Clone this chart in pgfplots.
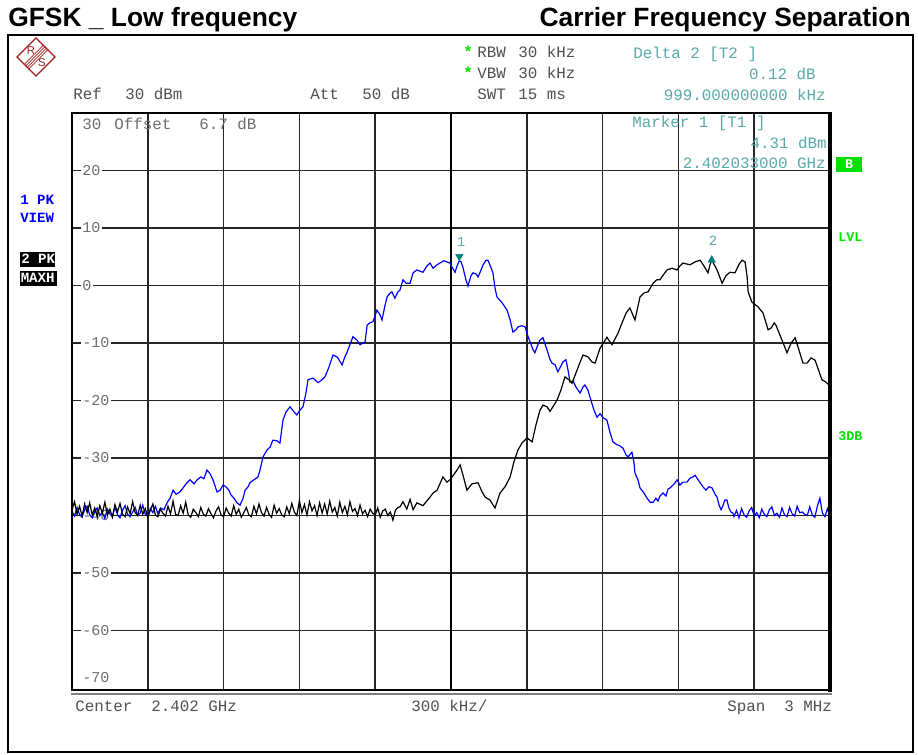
\documentclass[border=0pt]{standalone}
\usepackage{fontspec}
\setmainfont{Liberation Sans}
\newfontfamily\mono{Liberation Mono}
\usepackage{pgfplots}
\pgfplotsset{compat=1.18}
\definecolor{tealtxt}{RGB}{90,170,170}
\definecolor{tealmk}{RGB}{0,128,128}
\definecolor{rsgreen}{RGB}{0,225,0}
\definecolor{lbl}{RGB}{110,110,110}
\definecolor{hdr}{RGB}{80,80,80}
\definecolor{rsred}{RGB}{160,30,30}
\begin{document}
\begin{tikzpicture}
\begin{axis}[
  at={(54pt,-517.5pt)}, anchor=south west,
  width=568.5pt, height=432.75pt, scale only axis,
  xmin=-1500, xmax=1500, ymin=-70.35, ymax=30,
  xtick={-1200,-900,-600,-300,300,600,900,1200},
  xticklabels={},
  extra x ticks={0}, extra x tick labels={},
  extra x tick style={grid=major, major grid style={black, line width=2pt}},
  ytick={-60,-50,-40,-30,-20,-10,0,10,20},
  yticklabels={-60,-50,-40,-30,-20,-10,0,10,20},
  yticklabel style={font=\mono\fontsize{11.3}{12}\selectfont, text=lbl, anchor=west, xshift=6.5pt, fill=white, inner sep=1pt},
  major tick length=0pt,
  grid=major,
  major grid style={black!85, line width=1.1pt},
  axis line style={draw=none},
  set layers=standard,
]
% Trace 1 (PK VIEW, blue)
\addplot[blue, line width=0.9pt] coordinates {
(-1500,-39.3)(-1490,-40.1)(-1480,-38.6)(-1470,-39.8)(-1460,-40.3)(-1450,-39.0)(-1440,-38.4)(-1430,-39.9)(-1420,-40.4)(-1410,-39.2)
(-1400,-38.7)(-1390,-40.0)(-1380,-39.5)(-1370,-40.5)(-1360,-38.9)(-1350,-39.7)(-1340,-40.2)(-1330,-38.5)(-1320,-39.9)(-1310,-40.4)
(-1300,-39.1)(-1290,-38.3)(-1280,-39.8)(-1270,-40.2)(-1260,-39.4)(-1250,-38.6)(-1240,-40.0)(-1230,-39.6)(-1220,-38.2)(-1210,-39.8)
(-1200,-40.1)(-1190,-38.8)(-1180,-39.5)(-1170,-38.4)(-1160,-39.7)(-1150,-38.7)
(-1136,-39.0)(-1124,-37.8)(-1112,-37.0)(-1100,-35.6)(-1088,-36.3)(-1073,-35.9)(-1057,-35.0)(-1045,-34.3)
(-1033,-33.8)(-1017,-34.5)(-1005,-33.8)(-990,-33.3)(-978,-33.6)(-966,-32.1)(-954,-32.7)(-942,-33.8)
(-926,-35.9)(-914,-35.6)(-902,-34.7)(-891,-35.0)(-879,-35.6)(-871,-36.4)(-859,-37.0)(-847,-37.8)
(-835,-38.2)(-823,-37.0)(-815,-35.6)(-803,-35.0)(-796,-34.3)(-780,-33.8)(-764,-33.3)(-756,-32.1)
(-744,-29.8)(-728,-28.6)(-716,-28.1)(-705,-26.9)(-689,-27.0)(-677,-27.4)(-665,-23.4)(-653,-22.0)
(-637,-21.1)(-621,-22.0)(-610,-22.5)(-598,-21.7)(-586,-21.1)(-574,-18.7)(-566,-16.4)(-546,-16.1)
(-526,-16.9)(-511,-16.4)(-499,-15.9)(-483,-14.2)(-467,-12.1)(-451,-12.4)(-431,-13.8)(-420,-12.4)
(-412,-11.7)(-400,-10.3)(-388,-8.9)(-372,-9.5)(-360,-10.3)(-340,-9.8)(-332,-6.9)(-321,-6.5)
(-309,-6.3)(-293,-4.3)(-281,-5.1)(-273,-6.0)(-261,-3.4)(-253,-2.0)(-241,-1.3)(-234,-1.1)
(-222,-2.2)(-210,-1.1)(-202,-0.8)(-190,1.0)(-178,0.4)(-162,0.4)(-150,2.2)(-135,2.7)
(-123,2.5)(-111,2.3)(-95,3.4)(-83,3.9)(-71,3.0)(-55,3.6)(-44,3.9)(-28,4.3)
(-16,4.1)(-4,3.9)(4,3.2)(16,2.3)(24,3.4)(33,4.31)(40,4.1)(47,3.2)
(59,1.0)(67,-0.1)(79,1.7)(87,2.2)(99,2.0)(107,1.5)(119,2.7)(127,3.6)
(139,4.4)(146,4.4)(154,3.6)(166,2.2)(174,-0.4)(182,-2.0)(202,-3.0)(222,-4.3)
(234,-6.0)(245,-8.1)(257,-7.7)(265,-7.2)(281,-7.0)(293,-7.2)(305,-8.9)(313,-9.8)
(325,-11.2)(332,-11.7)(344,-10.3)(352,-9.5)(364,-9.1)(380,-11.2)(392,-12.9)(400,-13.5)
(412,-13.8)(423,-15.0)(435,-14.0)(443,-13.3)(455,-12.9)(463,-14.7)(471,-16.8)(483,-16.6)
(495,-17.7)(511,-18.7)(522,-17.7)(530,-17.3)(542,-18.2)(550,-19.4)(566,-21.7)(578,-22.9)
(590,-22.3)(602,-23.0)(617,-23.4)(629,-25.5)(641,-27.2)(657,-27.7)(669,-27.9)(681,-28.3)
(693,-29.5)(701,-29.8)(716,-29.0)(724,-30.7)(728,-32.6)(740,-33.8)(748,-35.2)(764,-36.1)
(776,-37.0)(788,-37.7)(800,-37.7)(811,-37.0)(819,-37.5)(827,-36.6)(839,-36.1)(851,-36.6)
(859,-35.4)(867,-35.2)(879,-34.7)(887,-34.3)(895,-33.8)(906,-34.7)(918,-34.2)(934,-34.2)
(946,-33.5)(958,-33.3)(966,-33.0)(978,-33.8)(986,-34.3)(997,-35.0)(1009,-35.6)(1021,-35.0)
(1033,-35.2)(1045,-36.3)(1053,-36.8)(1061,-38.2)(1069,-39.0)(1077,-38.2)(1084,-37.3)(1092,-37.3)
(1100,-38.7)(1108,-39.4)(1116,-39.6)
(1120,-40.2)(1130,-39.1)(1140,-40.4)(1150,-38.8)(1160,-39.9)(1170,-40.3)(1180,-39.2)(1190,-38.6)(1200,-40.1)(1210,-39.5)
(1220,-40.4)(1230,-38.9)(1240,-39.8)(1250,-40.2)(1260,-39.0)(1270,-38.5)(1280,-40.0)(1290,-39.6)(1300,-40.3)(1310,-38.7)
(1320,-39.9)(1330,-40.2)(1340,-38.6)(1350,-39.7)(1360,-40.1)(1370,-38.4)(1380,-39.5)(1390,-39.4)(1400,-39.8)(1410,-40.0)
(1420,-38.5)(1430,-39.9)(1440,-40.3)(1450,-38.4)(1460,-37.0)(1470,-39.6)(1480,-40.2)(1490,-38.8)(1500,-40.0)
};
% Trace 2 (PK MAXH, black)
\addplot[black, line width=0.9pt] coordinates {
(-1500,-39.0)(-1490,-37.6)(-1480,-39.8)(-1470,-38.4)(-1460,-40.1)(-1450,-38.0)(-1440,-39.5)(-1430,-37.8)(-1420,-39.9)(-1410,-38.7)
(-1400,-40.2)(-1390,-38.3)(-1380,-39.6)(-1370,-37.7)(-1360,-39.9)(-1350,-38.9)(-1340,-40.3)(-1330,-38.1)(-1320,-39.4)(-1310,-37.9)
(-1300,-39.8)(-1290,-40.2)(-1280,-38.5)(-1270,-39.7)(-1260,-37.6)(-1250,-39.5)(-1240,-40.0)(-1230,-38.2)(-1220,-39.8)(-1210,-38.8)
(-1200,-40.3)(-1190,-39.1)(-1180,-38.0)(-1170,-39.9)(-1160,-40.2)(-1150,-38.9)(-1140,-39.6)(-1130,-40.1)(-1120,-38.4)(-1110,-39.7)
(-1100,-37.5)(-1090,-39.8)(-1080,-40.0)(-1070,-38.3)(-1060,-39.6)(-1050,-37.7)(-1040,-39.9)(-1030,-40.3)(-1020,-38.9)(-1010,-39.5)
(-1000,-40.2)(-990,-38.6)(-980,-39.8)(-970,-40.1)(-960,-38.8)(-950,-39.7)(-940,-40.4)(-930,-39.2)(-920,-38.5)(-910,-39.9)
(-900,-40.2)(-890,-38.7)(-880,-39.6)(-870,-40.1)(-860,-38.3)(-850,-39.8)(-840,-38.9)(-830,-40.3)(-820,-39.5)(-810,-38.6)
(-800,-39.9)(-790,-40.2)(-780,-38.4)(-770,-39.7)(-760,-38.0)(-750,-39.5)(-740,-40.1)(-730,-38.6)(-720,-39.8)(-710,-40.3)
(-700,-38.2)(-690,-39.6)(-680,-38.8)(-670,-39.9)(-660,-40.2)(-650,-38.5)(-640,-39.7)(-630,-37.9)(-620,-39.4)(-610,-40.0)
(-600,-37.4)(-590,-39.5)(-580,-38.1)(-570,-39.9)(-560,-37.6)(-550,-39.2)(-540,-38.3)(-530,-40.0)(-520,-37.8)(-510,-39.6)
(-500,-38.0)(-490,-39.8)(-480,-37.5)(-470,-39.4)(-460,-38.6)(-450,-40.1)(-440,-37.7)(-430,-39.5)(-420,-38.4)(-410,-39.9)
(-400,-37.6)(-390,-39.3)(-380,-38.8)(-370,-40.0)(-360,-38.2)(-350,-39.7)(-340,-39.1)(-330,-40.2)(-320,-38.9)(-310,-39.6)
(-300,-39.9)(-290,-38.7)(-280,-40.3)(-270,-39.2)(-260,-38.9)(-250,-40.0)(-240,-39.4)(-230,-40.8)(-220,-39.1)(-210,-38.6)
(-202,-38.5)(-190,-37.6)(-175,-38.9)(-162,-37.2)(-150,-39.0)(-135,-37.8)(-111,-38.3)(-83,-36.8)
(-71,-36.1)(-55,-35.6)(-32,-33.3)(-16,-34.2)(-4,-33.8)(24,-32.1)(36,-31.2)(47,-32.9)
(63,-35.6)(83,-34.5)(107,-34.3)(123,-35.9)(135,-36.8)(154,-37.3)(174,-38.7)(194,-36.1)
(214,-35.0)(234,-33.3)(249,-30.7)(265,-28.6)(281,-27.4)(301,-26.5)(321,-27.2)(336,-24.3)
(352,-21.7)(364,-20.8)(380,-21.1)(392,-21.9)(420,-19.9)(435,-18.2)(451,-15.9)(467,-16.4)
(479,-17.0)(499,-14.7)(522,-12.1)(542,-12.4)(558,-13.3)(570,-13.5)(590,-10.9)(606,-9.8)
(617,-9.0)(637,-10.3)(661,-8.3)(677,-6.5)(693,-4.8)(708,-3.9)(728,-6.0)(748,-2.0)
(764,-1.3)(780,-1.1)(800,0.4)(815,1.0)(827,1.0)(843,2.0)(855,2.7)(875,3.0)
(895,2.7)(906,3.4)(918,3.9)(946,3.6)(966,4.1)(986,4.4)(1001,3.4)(1017,2.2)
(1025,3.6)(1032,4.43)(1053,2.7)(1073,0.4)(1088,1.7)(1104,2.3)(1124,2.2)(1140,3.7)
(1152,4.4)(1164,4.1)(1172,1.5)(1176,-1.1)(1191,-2.9)(1215,-3.7)(1235,-4.8)(1255,-7.7)
(1267,-7.4)(1279,-6.5)(1286,-6.9)(1310,-9.5)(1330,-11.7)(1346,-10.0)(1362,-9.1)(1377,-11.2)
(1393,-13.5)(1409,-13.5)(1425,-12.6)(1441,-13.0)(1457,-15.0)(1468,-16.4)(1484,-16.8)(1500,-17.5)
};
% markers
\addplot[only marks, mark=triangle*, mark size=3.2pt, color=tealmk, mark options={yshift=3.2pt, rotate=180}] coordinates {(33,4.31)};
\addplot[only marks, mark=triangle*, mark size=3.2pt, color=tealmk] coordinates {(1032,4.43)};
\end{axis}
\begin{scope}[x=0.75pt,y=-0.75pt]
% frame of the graticule
\draw[black, line width=1.5pt] (72,690) -- (72,113) -- (830,113);
\draw[black, line width=2.6pt] (830,112) -- (830,691.5);
\draw[black, line width=2pt] (71,690) -- (831.5,690);
\draw[gray, line width=1.2pt] (71,694) -- (831.5,694);
% outer box
\draw[black, line width=1.5pt] (7.5,35.5) rectangle (913,752);
% titles
\node[anchor=base west, inner sep=0, font=\bfseries\fontsize{19.8}{22}\selectfont] at (8,26.5) {GFSK \_ Low frequency};
\node[anchor=base east, inner sep=0, font=\bfseries\fontsize{19.8}{22}\selectfont] at (911,26.5) {Carrier Frequency Separation};
% logo
\begin{scope}[shift={(36,57)}]
\draw[rsred, line width=0.9pt] (0,-19) -- (19,0) -- (0,19) -- (-19,0) -- cycle;
\foreach \d in {-2.2,-0.7,0.8,2.3} {\draw[rsred, line width=0.6pt] (10+\d,-10+\d) -- (-10+\d,10+\d);}
\node[rsred, font=\fontsize{8.5}{9}\selectfont, inner sep=0] at (-5,-6) {R};
\node[rsred, font=\fontsize{8.5}{9}\selectfont, inner sep=0] at (6,6) {S};
\end{scope}
% header texts
\tikzset{hd/.style={anchor=base west, inner sep=0, font=\mono\fontsize{11.9}{13}\selectfont, text=hdr},
         hde/.style={anchor=base east, inner sep=0, font=\mono\fontsize{11.9}{13}\selectfont, text=tealtxt}}
\node[hd] at (73,100) {Ref};
\node[hd] at (125,100) {30 dBm};
\node[hd] at (310,100) {Att};
\node[hd] at (362,100) {50 dB};
\node[hd, text=rsgreen, font=\mono\bfseries\fontsize{11.9}{13}\selectfont] at (463,58) {*};
\node[hd, text=rsgreen, font=\mono\bfseries\fontsize{11.9}{13}\selectfont] at (463,79) {*};
\node[hd] at (477,58) {RBW};
\node[hd] at (518,58) {30 kHz};
\node[hd] at (477,79) {VBW};
\node[hd] at (518,79) {30 kHz};
\node[hd] at (477,100) {SWT};
\node[hd] at (518,100) {15 ms};
\node[hd, text=tealtxt] at (633,59) {Delta 2 [T2 ]};
\node[hde] at (816,80) {0.12 dB};
\node[hde] at (826,101) {999.000000000 kHz};
\node[hd, text=tealtxt] at (632,128) {Marker 1 [T1 ]};
\node[hde] at (827,149) {4.31 dBm};
\node[hde] at (826,169) {2.402033000 GHz};
% inner level labels
\node[hd, text=lbl] at (82,130) {30};
\node[hd, text=lbl] at (114,130) {Offset};
\node[hd, text=lbl] at (199,130) {6.7 dB};
\node[hd, text=lbl, font=\mono\fontsize{11.3}{12}\selectfont] at (82,682) {-70};
% bottom texts
\node[hd] at (75,711) {Center};
\node[hd] at (151,711) {2.402 GHz};
\node[hd] at (411,711) {300 kHz/};
\node[hd] at (727,711) {Span};
\node[hd] at (784,711) {3 MHz};
% left trace labels
\tikzset{tl/.style={anchor=base west, inner sep=0, font=\mono\bfseries\fontsize{10.6}{12}\selectfont}}
\node[tl, text=blue] at (20,205) {1 PK};
\node[tl, text=blue] at (20,223) {VIEW};
\fill[black] (19.5,252) rectangle (55,267.5);
\node[tl, text=white] at (21,264) {2 PK};
\fill[black] (19.5,271) rectangle (57,286);
\node[tl, text=white] at (20.5,283) {MAXH};
% right side labels
\fill[rsgreen] (836,157) rectangle (862,172);
\node[font=\mono\bfseries\fontsize{10}{11}\selectfont, text=white, inner sep=0] at (849,164.5) {B};
\node[tl, text=rsgreen, font=\mono\bfseries\fontsize{10}{11}\selectfont] at (838,241.5) {LVL};
\node[tl, text=rsgreen, font=\mono\bfseries\fontsize{10}{11}\selectfont] at (838,440.5) {3DB};
% marker numbers
\node[font=\mono\fontsize{10.5}{11}\selectfont, text=tealtxt, inner sep=0] at (461,242) {1};
\node[font=\mono\fontsize{10.5}{11}\selectfont, text=tealtxt, inner sep=0] at (713,241) {2};
\end{scope}
\useasboundingbox (0pt,0pt) rectangle (688.5pt,-566.25pt);
\end{tikzpicture}
\end{document}
